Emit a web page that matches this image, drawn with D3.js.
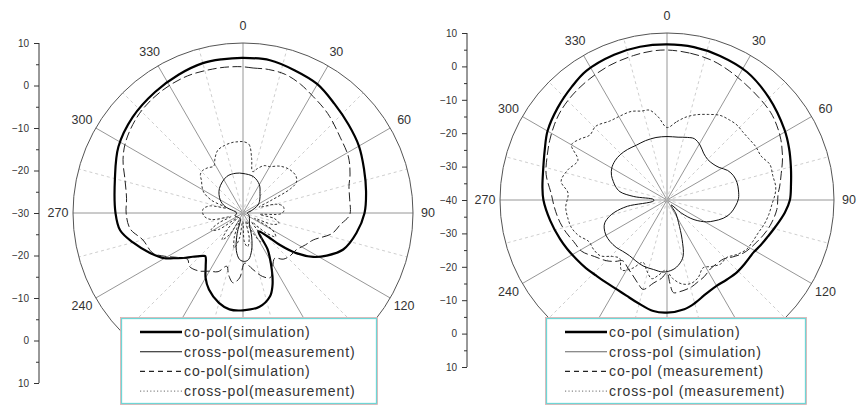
<!DOCTYPE html>
<html>
<head>
<meta charset="utf-8">
<script src="https://cdn.jsdelivr.net/npm/d3@7"></script>
<style>
  html, body { margin: 0; padding: 0; background: #fff; }
  svg { display: block; font-family: "Liberation Sans", Arial, sans-serif; }
</style>
</head>
<body>
<div id="vis"></div>
<script>
// ── DATA ───────────────────────────────────────────────────────────────────────
// angle (deg, clockwise from top) , gain (dB)
const angleLabels = d3.range(0, 360, 30);

const leftRange  = [-30, 10];
const rightRange = [-40, 10];

const leftLegend  = ["co-pol(simulation)", "cross-pol(measurement)", "co-pol(simulation)", "cross-pol(measurement)"];
const rightLegend = ["co-pol (simulation)", "cross-pol (simulation)", "co-pol (measurement)", "cross-pol (measurement)"];

// left pattern
const leftCoSim = [[0,6.5],[10,6.5],[20,5.7],[30,5.0],[40,3.5],[50,2.4],[60,1.5],[70,0.3],[80,-0.6],[90,-1.4],[100,-2.9],[110,-4.9],[117,-7.9],[122,-10.5],[127,-14.3],[131,-18.6],[134,-22.3],[140,-24.4],[146,-19.6],[151,-16.5],[155,-13.6],[158,-11.5],[162,-9.4],[170,-7.6],[180,-7.1],[188,-7.1],[195,-8.1],[204,-10.3],[210,-12.4],[215,-14.7],[221,-16.5],[223,-16.2],[229,-14.3],[233,-12.4],[237,-10.5],[240,-8.7],[247,-6.1],[255,-3.2],[262,-0.8],[270,0],[285,1.2],[298,3.2],[311,4.4],[324,5.2],[335,5.9],[345,6.5],[352,6.5]];
const leftXMeas = [[0,-20.7],[16,-21.1],[30,-22.3],[41,-23.9],[52,-25],[62,-26],[75,-28],[90,-29],[110,-28.5],[130,-28],[150,-27],[160,-24],[167,-21],[173,-19],[178,-18.6],[184,-19],[190,-21],[196,-25],[205,-28.5],[225,-28.5],[250,-28],[270,-28.5],[290,-25.5],[300,-23.8],[316,-22],[336,-20.6],[350,-20.5]];
const leftCoMeas = [[0,4.4],[4,4.2],[10,4.3],[17,4.1],[24,3.2],[31,2.0],[37,1.2],[42,0.5],[52,-1.0],[62,-1.9],[70,-3.2],[76,-4.3],[83,-4.7],[91,-4.9],[97,-7],[103,-8.5],[111,-12.3],[117,-13.5],[125,-14.8],[132,-15],[139,-15.6],[145,-17],[151,-15.6],[157,-13.5],[163,-14.4],[170,-16.5],[178,-18.2],[183,-14.7],[188,-13.4],[193,-15],[197,-16.9],[203,-15],[210,-14.2],[217,-12.9],[225,-12.2],[230,-13],[235,-11.7],[241,-9],[246,-6.8],[255,-5.6],[262,-3.2],[270,-2.5],[277,-2.4],[286,-1.1],[294,0.9],[302,2.4],[314,3.8],[326,4.5],[338,4.8],[350,4.6],[356,4.5]];
const leftXSim = [[0,-13.2],[5,-13.8],[9,-17],[13,-20],[18,-19],[24,-17.8],[30,-17.4],[38,-16],[47,-15],[55,-14.8],[60,-15.5],[63,-17.5],[66,-23],[70,-26],[75,-22],[80,-20.5],[86,-20.3],[91,-21],[95,-26],[100,-22.5],[106,-21.2],[111,-22.5],[115,-27],[120,-22],[126,-20.5],[131,-23],[136,-27],[142,-23],[148,-22],[154,-25],[160,-28],[166,-24],[172,-22],[177,-23],[182,-28],[188,-24],[194,-21.5],[200,-24],[206,-28],[212,-24],[218,-22],[224,-25],[230,-28],[236,-23],[242,-21.5],[248,-24],[253,-27],[258,-22.5],[264,-21],[270,-20.5],[276,-20.6],[282,-22],[287,-26],[292,-22],[298,-19.5],[303,-18.5],[308,-17.6],[312,-16.5],[316,-16.2],[322,-16.5],[328,-17],[333,-15.5],[338,-14.1],[345,-13.5],[352,-13.2],[356,-13.2]];

// right pattern
const rightCoSim = [[0,6.6],[10,6.5],[20,6.0],[32,5.2],[45,3.2],[59,1.0],[67,-0.3],[75,-1.6],[83,-2.6],[90,-3.2],[96,-4.5],[104,-6.6],[110,-7.9],[116,-8.9],[121,-9.7],[129,-9.9],[136,-9.9],[143,-10.2],[150,-10.3],[155,-9.9],[159,-9.3],[165,-8],[171,-6.9],[180,-6.3],[187,-6.5],[196,-8],[203,-8.9],[209,-9.3],[216,-9.3],[223,-9],[230,-8.3],[237,-7.6],[244,-6.7],[250,-5.9],[260,-4.5],[270,-3],[276,-2.5],[284,-1.8],[292,-0.5],[300,1.3],[310,2.8],[320,4.3],[328,5.6],[340,6.3],[350,6.6]];
const rightXSim = [[0,-21],[10,-20.9],[18,-20.3],[24,-19.9],[31,-20.8],[38,-22.2],[45,-22.8],[52,-22.5],[58,-21.6],[64,-19.8],[70,-18.8],[76,-18.4],[82,-18.4],[89,-18.6],[95,-19.4],[102,-20.6],[108,-22.3],[114,-24.6],[119,-26.5],[126,-30],[132,-34],[140,-38],[147,-35],[153,-32.4],[159,-27.4],[164,-22.5],[169,-20.5],[175,-19.1],[183,-18.4],[191,-18.8],[200,-19],[207,-19.5],[214,-19.9],[221,-19.7],[227,-19.2],[234,-18.9],[240,-18.9],[246,-19.4],[250,-20.2],[254,-22],[257,-24],[261,-28],[266,-36],[272,-36],[276,-30],[280,-25.7],[285,-24],[289,-23],[294,-21.8],[300,-20.9],[307,-20.5],[314,-20.5],[322,-20.8],[331,-21.2],[340,-21.1],[350,-21]];
const rightCoMeas = [[0,4.9],[9,4.5],[18,3.9],[26,2.9],[34,1.9],[42,1.2],[50,0.6],[56,-0.3],[62,-1.4],[70,-3.2],[77,-4.9],[83,-6],[87,-6.7],[95,-7],[104,-8.2],[110,-9.3],[115,-10.3],[120,-11.2],[125,-12.2],[131,-14],[136,-15.5],[142,-15.8],[148,-15.6],[154,-14.5],[160,-13.7],[164,-13],[168,-12.6],[172,-12.3],[176,-12.2],[178,-15],[180,-18.2],[184,-16.5],[189,-14.9],[195,-12.3],[199,-13.5],[204,-15.1],[210,-16.5],[216,-17.5],[220,-16],[225,-14.3],[232,-12.5],[239,-10.2],[246,-9.4],[252,-8.3],[258,-7.3],[264,-6.5],[268,-6],[273,-5.3],[282,-3],[290,-1.8],[297,-0.6],[304,0.6],[310,1.5],[318,2.3],[327,3],[337,3.8],[347,4.4],[354,4.8]];
const rightXMeas = [[0,-18.3],[7,-16.4],[13,-14.5],[19,-13],[26,-11.5],[32,-10.1],[38,-9.6],[43,-9.3],[48,-9.5],[53,-9.4],[59,-9],[65,-8.9],[71,-7.4],[77,-7.5],[83,-7.2],[87,-7.6],[92,-8.5],[98,-9.2],[104,-10],[110,-11],[116,-11.5],[122,-12],[128,-13.5],[134,-15.2],[140,-15],[146,-16],[152,-17],[158,-15],[164,-14],[170,-14.5],[176,-16.5],[181,-19],[186,-17.5],[191,-16],[196,-18],[201,-20],[207,-17],[213,-15],[219,-17.5],[224,-16.5],[230,-14],[236,-13.5],[242,-13.5],[248,-11.5],[254,-10.2],[260,-9.8],[266,-9.6],[274,-10.3],[280,-7.8],[287,-9],[294,-10.8],[300,-7],[305,-8.2],[310,-9.8],[316,-9.3],[324,-10.8],[331,-11.2],[338,-11.4],[344,-12.3],[349,-12.6],[354,-15]];

// ── CONFIG ─────────────────────────────────────────────────────────────────────
const width  = 858;
const height = 405;

// line styles: thick, thin, dashed, dotted
const styles = [
  { w: 2.2, c: "#000", dash: null,      legendDash: null,      legendC: "#000" },
  { w: 1.0, c: "#111", dash: null,      legendDash: null,      legendC: "#111" },
  { w: 1.0, c: "#222", dash: "9,3.5",   legendDash: "5,4",     legendC: "#222" },
  { w: 1.0, c: "#333", dash: "2.5,2",   legendDash: "1.2,2.2", legendC: "#888" }
];

const svg = d3.select("#vis").append("svg")
    .attr("width", width)
    .attr("height", height)
    .attr("viewBox", [0, 0, width, height]);

polar({
  cx: 243, cy: 213, R: 170, axisX: 39, range: leftRange,
  series: [leftCoSim, leftXMeas, leftCoMeas, leftXSim],
  legend: { x: 120, y: 317, w: 257, h: 87, labels: leftLegend, thinC: "#111" }
});

polar({
  cx: 667, cy: 200, R: 167, axisX: 467, range: rightRange,
  series: [rightCoSim, rightXSim, rightCoMeas, rightXMeas],
  legend: { x: 545, y: 317, w: 261, h: 87, labels: rightLegend, thinC: "#666" }
});

// ── DRAW ONE POLAR PANEL ───────────────────────────────────────────────────────
function polar(o) {
  const g = svg.append("g");
  const r = d3.scaleLinear(o.range, [0, o.R]).clamp(true);
  const rad = a => a * Math.PI / 180;
  const L = o.legend;

  // spokes
  g.append("g").selectAll("line")
    .data(d3.range(0, 360, 15))
    .join("line")
      .attr("x1", o.cx).attr("y1", o.cy)
      .attr("x2", a => o.cx + o.R * Math.sin(rad(a)))
      .attr("y2", a => o.cy - o.R * Math.cos(rad(a)))
      .attr("stroke", a => a % 30 === 0 ? "#8a8a8a" : "#c8c8c8")
      .attr("stroke-width", 0.9)
      .attr("stroke-dasharray", a => a % 30 === 0 ? null : "3,3");

  g.append("circle")
      .attr("cx", o.cx).attr("cy", o.cy).attr("r", o.R)
      .attr("fill", "none").attr("stroke", "#555").attr("stroke-width", 1);

  // angle labels (the ones under the legend box are hidden, as in the original)
  const lr = a => o.R + 15 + 2 * Math.abs(Math.cos(rad(a)));
  const lx = a => o.cx + lr(a) * Math.sin(rad(a));
  const ly = a => o.cy - lr(a) * Math.cos(rad(a));
  const visible = angleLabels.filter(a =>
    !(lx(a) > L.x - 8 && lx(a) < L.x + L.w + 8 && ly(a) > L.y - 4));

  g.append("g")
      .style("font-size", "12.5px").attr("fill", "#333")
      .attr("text-anchor", "middle")
    .selectAll("text")
    .data(visible)
    .join("text")
      .attr("x", lx)
      .attr("y", ly)
      .attr("dy", "0.35em")
      .text(a => a);

  // curves
  const line = d3.lineRadial()
      .angle(d => rad(d[0]))
      .radius(d => r(d[1]))
      .curve(d3.curveCatmullRomClosed.alpha(0.5));

  g.append("g").attr("transform", `translate(${o.cx},${o.cy})`)
    .selectAll("path")
    .data(o.series)
    .join("path")
      .attr("d", line)
      .attr("fill", "none")
      .attr("stroke", (d, i) => styles[i].c)
      .attr("stroke-width", (d, i) => styles[i].w)
      .attr("stroke-dasharray", (d, i) => styles[i].dash);

  // radial axis (mirrored above / below the centre)
  const up   = d3.scaleLinear(o.range, [o.cy, o.cy - o.R]);
  const down = d3.scaleLinear(o.range, [o.cy, o.cy + o.R]);
  const major = d3.range(o.range[0], o.range[1] + 1, 10);
  const minor = d3.range(o.range[0] + 5, o.range[1], 10);

  const ax = g.append("g").attr("transform", `translate(${o.axisX},0)`)
      .style("font-size", "12.5px");
  ax.append("g").call(d3.axisLeft(up).tickValues(major).tickSize(5).tickPadding(5).tickSizeOuter(0));
  ax.append("g").call(d3.axisLeft(down).tickValues(major.slice(1)).tickSize(5).tickPadding(5).tickSizeOuter(0));
  ax.append("g").call(d3.axisLeft(up).tickValues(minor).tickSize(3).tickFormat(""));
  ax.append("g").call(d3.axisLeft(down).tickValues(minor).tickSize(3).tickFormat(""));
  ax.selectAll(".domain").remove();
  ax.selectAll("line").attr("stroke", "#333");
  ax.selectAll("text").attr("fill", "#333").style("font-family", "'Liberation Sans', Arial, sans-serif");
  ax.append("line")
      .attr("y1", o.cy - o.R).attr("y2", o.cy + o.R)
      .attr("stroke", "#333");

  // legend
  const lg = g.append("g").attr("transform", `translate(${L.x},${L.y})`);
  lg.append("rect")
      .attr("x", 0.5).attr("y", 0.5).attr("width", L.w).attr("height", L.h)
      .attr("fill", "#fff").attr("stroke", "#e4a8a8").attr("stroke-width", 0.8);
  lg.append("rect")
      .attr("x", 1.5).attr("y", 1.5).attr("width", L.w - 2).attr("height", L.h - 2)
      .attr("fill", "none").attr("stroke", "#6fd6d6").attr("stroke-width", 1.3);

  const rows = lg.selectAll("g.row")
    .data(L.labels)
    .join("g")
      .attr("class", "row")
      .attr("transform", (d, i) => `translate(0,${15 + i * 19.7})`);
  rows.append("line")
      .attr("x1", 20).attr("x2", 62)
      .attr("stroke", (d, i) => i === 1 ? L.thinC : styles[i].legendC)
      .attr("stroke-width", (d, i) => i === 0 ? 2.4 : 1.1)
      .attr("stroke-dasharray", (d, i) => styles[i].legendDash);
  rows.append("text")
      .attr("x", 64).attr("dy", "0.35em")
      .style("font-size", "14px").style("letter-spacing", "0.9px")
      .attr("fill", "#333")
      .text(d => d);
}
</script>
</body>
</html>
